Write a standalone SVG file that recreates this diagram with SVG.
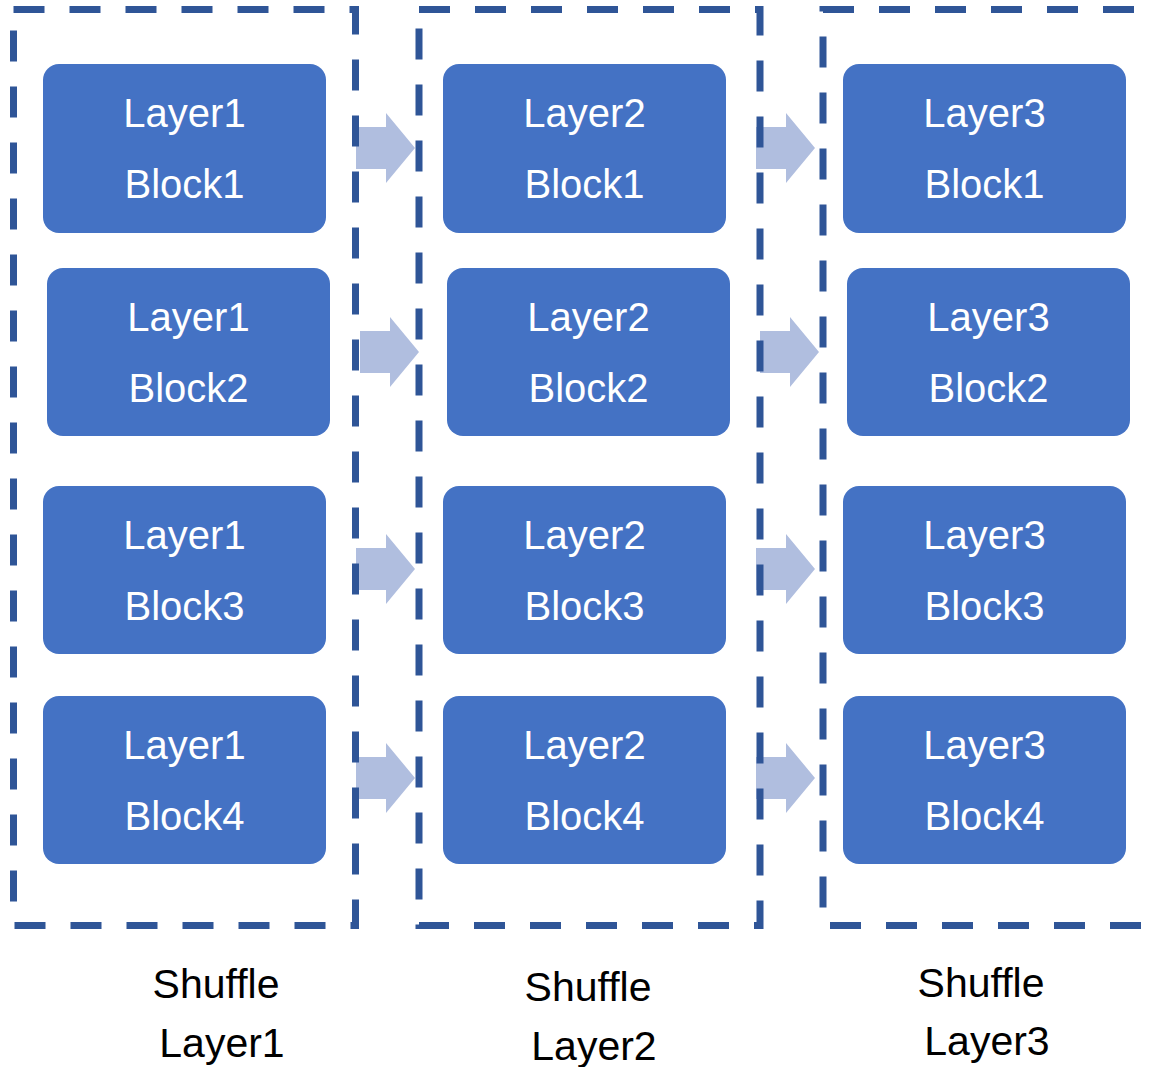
<svg xmlns="http://www.w3.org/2000/svg" width="1157" height="1067" viewBox="0 0 1157 1067">
<style>
.blk{fill:#4472C4;}
.bt{font-family:"Liberation Sans",Arial,sans-serif;font-size:40px;fill:#FFFFFF;text-anchor:middle;}
.lbl{font-family:"Liberation Sans",Arial,sans-serif;font-size:41px;fill:#000000;text-anchor:middle;}
.grp{fill:none;stroke:#2F5597;stroke-width:7;stroke-dasharray:31 25;}
.arr{fill:#B0BEDF;}
</style>
<defs>
<path id="arrow" d="M0,-21 H30 V-35 L59,0 L30,35 V21 H0 Z"/>
</defs>
<g id="connectors">
<use href="#arrow" class="arr" x="356" y="148"/>
<use href="#arrow" class="arr" x="360" y="352"/>
<use href="#arrow" class="arr" x="356" y="569"/>
<use href="#arrow" class="arr" x="356" y="778"/>
<use href="#arrow" class="arr" x="756" y="148"/>
<use href="#arrow" class="arr" x="760" y="352"/>
<use href="#arrow" class="arr" x="756" y="569"/>
<use href="#arrow" class="arr" x="756" y="778"/>
</g>
<g id="shuffle-layer1">
<rect class="grp" x="13.5" y="9.5" width="342" height="916"/>
<text class="lbl" x="216" y="998">Shuffle</text>
<text class="lbl" x="222" y="1057">Layer1</text>
</g>
<g id="shuffle-layer2">
<rect class="grp" x="419" y="9.5" width="341" height="916"/>
<text class="lbl" x="588" y="1001">Shuffle</text>
<text class="lbl" x="594" y="1060">Layer2</text>
</g>
<g id="shuffle-layer3">
<rect class="grp" x="823" y="9.5" width="345" height="916"/>
<text class="lbl" x="981" y="997">Shuffle</text>
<text class="lbl" x="987" y="1055">Layer3</text>
</g>
<g id="l1b1"><rect class="blk" x="43" y="64" width="283" height="169" rx="16"/><text class="bt" x="184.5" y="127">Layer1</text><text class="bt" x="184.5" y="198">Block1</text></g>
<g id="l1b2"><rect class="blk" x="47" y="268" width="283" height="168" rx="16"/><text class="bt" x="188.5" y="331">Layer1</text><text class="bt" x="188.5" y="402">Block2</text></g>
<g id="l1b3"><rect class="blk" x="43" y="486" width="283" height="168" rx="16"/><text class="bt" x="184.5" y="549">Layer1</text><text class="bt" x="184.5" y="620">Block3</text></g>
<g id="l1b4"><rect class="blk" x="43" y="696" width="283" height="168" rx="16"/><text class="bt" x="184.5" y="759">Layer1</text><text class="bt" x="184.5" y="830">Block4</text></g>
<g id="l2b1"><rect class="blk" x="443" y="64" width="283" height="169" rx="16"/><text class="bt" x="584.5" y="127">Layer2</text><text class="bt" x="584.5" y="198">Block1</text></g>
<g id="l2b2"><rect class="blk" x="447" y="268" width="283" height="168" rx="16"/><text class="bt" x="588.5" y="331">Layer2</text><text class="bt" x="588.5" y="402">Block2</text></g>
<g id="l2b3"><rect class="blk" x="443" y="486" width="283" height="168" rx="16"/><text class="bt" x="584.5" y="549">Layer2</text><text class="bt" x="584.5" y="620">Block3</text></g>
<g id="l2b4"><rect class="blk" x="443" y="696" width="283" height="168" rx="16"/><text class="bt" x="584.5" y="759">Layer2</text><text class="bt" x="584.5" y="830">Block4</text></g>
<g id="l3b1"><rect class="blk" x="843" y="64" width="283" height="169" rx="16"/><text class="bt" x="984.5" y="127">Layer3</text><text class="bt" x="984.5" y="198">Block1</text></g>
<g id="l3b2"><rect class="blk" x="847" y="268" width="283" height="168" rx="16"/><text class="bt" x="988.5" y="331">Layer3</text><text class="bt" x="988.5" y="402">Block2</text></g>
<g id="l3b3"><rect class="blk" x="843" y="486" width="283" height="168" rx="16"/><text class="bt" x="984.5" y="549">Layer3</text><text class="bt" x="984.5" y="620">Block3</text></g>
<g id="l3b4"><rect class="blk" x="843" y="696" width="283" height="168" rx="16"/><text class="bt" x="984.5" y="759">Layer3</text><text class="bt" x="984.5" y="830">Block4</text></g>
</svg>
